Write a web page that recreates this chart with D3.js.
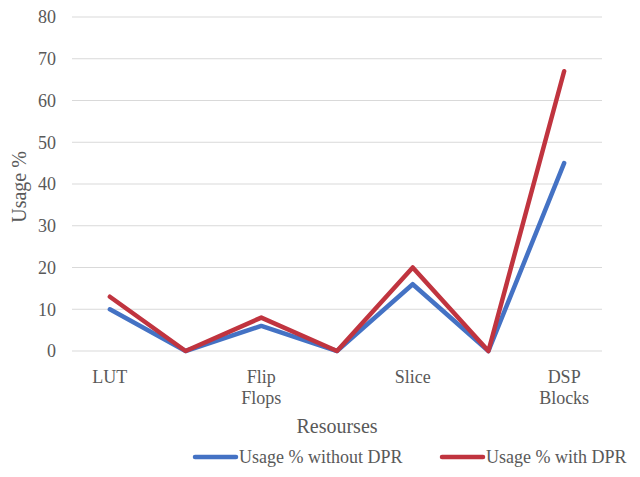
<!DOCTYPE html>
<html>
<head>
<meta charset="utf-8">
<script src="https://cdn.jsdelivr.net/npm/d3@7"></script>
<style>
  body { margin: 0; background: #fff; }
  text { font-family: "Liberation Serif", "DejaVu Serif", serif; fill: #595959; }
</style>
</head>
<body>
<div id="container"></div>
<script>
(function(){

  // data
  var categories = ["LUT", "", "Flip Flops", "", "Slice", "", "DSP Blocks"]
  var withoutDpr = [10, 0, 6, 0, 16, 0, 45]
  var withDpr = [13, 0, 8, 0, 20, 0, 67]
  var yTicks = [0, 10, 20, 30, 40, 50, 60, 70, 80]
  var seriesNames = ["Usage % without DPR", "Usage % with DPR"]
  var colors = ["#4472C4", "#C0343F"]

  var width = 640, height = 477
  var margin = { top: 17, right: 38, bottom: 126, left: 72 }

  var svg = d3.select("#container")
    .append("svg")
      .attr("width", width)
      .attr("height", height)

  var x = d3.scaleBand()
    .domain(d3.range(categories.length))
    .range([margin.left, width - margin.right])

  var y = d3.scaleLinear()
    .domain([0, 80])
    .range([height - margin.bottom, margin.top])

  // gridlines
  svg.append("g")
    .selectAll("line")
    .data(yTicks)
    .enter().append("line")
      .attr("x1", margin.left)
      .attr("x2", width - margin.right)
      .attr("y1", d => y(d))
      .attr("y2", d => y(d))
      .attr("stroke", "#d9d9d9")
      .attr("stroke-width", 1.2)

  // y tick labels
  svg.append("g")
    .selectAll("text")
    .data(yTicks)
    .enter().append("text")
      .attr("x", 56)
      .attr("y", d => y(d))
      .attr("dy", "0.35em")
      .attr("text-anchor", "end")
      .style("font-size", "18px")
      .text(d => d)

  // x labels, split on spaces into lines
  var xl = svg.append("g")
    .selectAll("text")
    .data(categories)
    .enter().append("text")
      .attr("text-anchor", "middle")
      .attr("x", (d, i) => x(i) + x.bandwidth() / 2)
      .attr("y", 383)
      .style("font-size", "18px")
  xl.selectAll("tspan")
    .data(d => d.split(" "))
    .enter().append("tspan")
      .attr("x", function(){ return this.parentNode.getAttribute("x") })
      .attr("dy", (d, i) => i ? 21 : 0)
      .text(d => d)

  // axis titles
  svg.append("text")
    .attr("x", 337)
    .attr("y", 433)
    .attr("text-anchor", "middle")
    .style("font-size", "20px")
    .text("Resourses")

  svg.append("text")
    .attr("transform", "translate(26,187) rotate(-90)")
    .attr("text-anchor", "middle")
    .style("font-size", "20px")
    .text("Usage %")

  // lines
  var line = d3.line()
    .x((d, i) => x(i) + x.bandwidth() / 2)
    .y(d => y(d))

  svg.append("g")
    .selectAll("path")
    .data([withoutDpr, withDpr])
    .enter().append("path")
      .attr("d", line)
      .attr("fill", "none")
      .attr("stroke", (d, i) => colors[i])
      .attr("stroke-width", 4.5)
      .attr("stroke-linecap", "round")
      .attr("stroke-linejoin", "round")

  // legend
  var legendX = [195, 442]
  var lg = svg.append("g")
    .selectAll("g")
    .data(seriesNames)
    .enter().append("g")
      .attr("transform", (d, i) => "translate(" + legendX[i] + ",457)")
  lg.append("line")
    .attr("x1", 0).attr("x2", 41)
    .attr("stroke", (d, i) => colors[i])
    .attr("stroke-width", 4.5)
    .attr("stroke-linecap", "round")
  lg.append("text")
    .attr("x", 44)
    .attr("dy", "0.35em")
    .style("font-size", "18px")
    .text(d => d)

})()
</script>
</body>
</html>
